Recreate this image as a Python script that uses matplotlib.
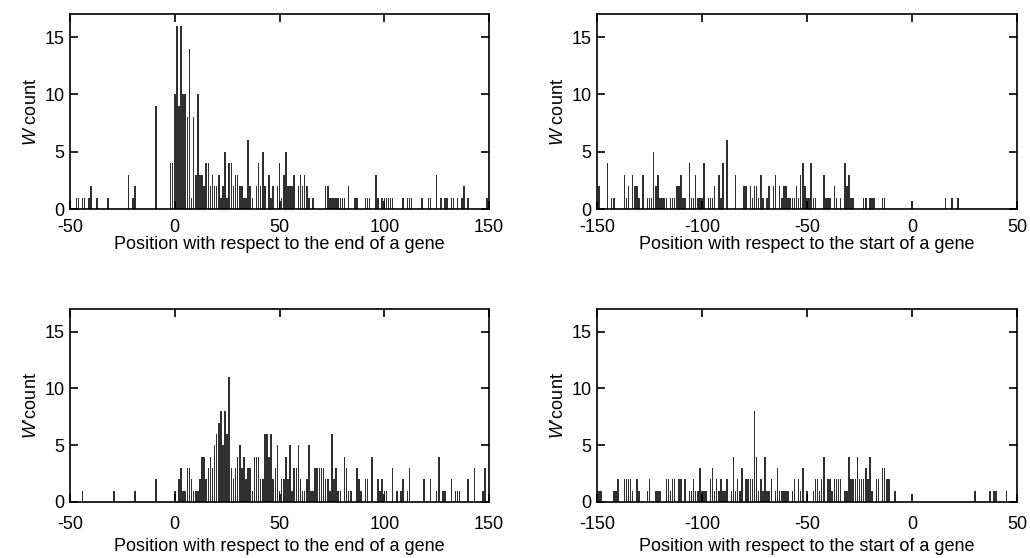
import matplotlib
matplotlib.use('Agg')
import matplotlib.pyplot as plt

plt.rcParams['font.family'] = ['Liberation Sans', 'DejaVu Sans']
plt.rcParams['mathtext.fontset'] = 'custom'
plt.rcParams['mathtext.it'] = 'Liberation Sans:italic'
plt.rcParams['mathtext.rm'] = 'Liberation Sans'

# W counts, position relative to the end of a gene (position, count)
w_end = [(-47, 1), (-46, 1), (-44, 1), (-43, 1), (-41, 1), (-40, 2), (-37, 1), (-32, 1),
         (-22, 3), (-20, 1), (-19, 2), (-9, 9), (-2, 4), (-1, 4), (0, 10), (1, 16), (2, 9),
         (3, 16), (4, 10), (5, 10), (6, 8), (7, 14), (8, 1), (9, 8), (10, 3), (11, 10),
         (12, 3), (13, 3), (14, 2), (15, 4), (16, 4), (17, 2), (18, 3), (19, 2), (20, 2),
         (21, 3), (22, 1), (23, 2), (24, 5), (25, 1), (26, 4), (27, 4), (28, 2), (29, 3),
         (30, 3), (31, 2), (32, 2), (33, 1), (34, 1), (35, 6), (36, 2), (37, 1), (39, 2),
         (40, 4), (41, 2), (42, 5), (43, 2), (45, 3), (46, 1), (47, 2), (49, 2), (50, 4),
         (51, 1), (52, 3), (53, 5), (54, 2), (55, 2), (56, 2), (57, 3), (59, 2), (60, 3),
         (61, 2), (62, 3), (63, 2), (64, 1), (66, 1), (72, 2), (73, 2), (74, 1), (75, 1),
         (76, 1), (77, 1), (78, 1), (79, 1), (80, 1), (81, 1), (83, 2), (86, 1), (87, 1),
         (91, 1), (92, 1), (93, 1), (96, 3), (97, 1), (99, 1), (100, 1), (101, 1), (102, 1),
         (103, 1), (104, 1), (109, 1), (111, 1), (112, 1), (113, 1), (118, 1), (121, 1),
         (122, 1), (125, 3), (127, 1), (129, 1), (130, 1), (132, 1), (133, 1), (135, 1),
         (137, 1), (138, 2), (140, 1), (149, 1)]

# W counts, position relative to the start of a gene
w_start = [(-149, 2), (-145, 4), (-143, 1), (-142, 1), (-137, 3), (-136, 1), (-135, 2),
           (-133, 3), (-132, 2), (-131, 2), (-130, 1), (-128, 3), (-126, 1), (-125, 1),
           (-124, 1), (-123, 5), (-122, 2), (-121, 3), (-120, 1), (-119, 1), (-118, 1),
           (-117, 1), (-115, 1), (-114, 1), (-113, 1), (-112, 2), (-111, 2), (-110, 3),
           (-109, 1), (-108, 1), (-106, 4), (-105, 1), (-104, 1), (-103, 3), (-102, 1),
           (-101, 1), (-100, 1), (-99, 4), (-97, 1), (-96, 1), (-95, 1), (-94, 2), (-92, 3),
           (-91, 1), (-90, 4), (-88, 6), (-84, 3), (-80, 2), (-79, 2), (-77, 2), (-76, 1),
           (-75, 2), (-74, 2), (-73, 1), (-72, 3), (-71, 1), (-69, 1), (-68, 2), (-66, 2),
           (-65, 3), (-63, 2), (-62, 1), (-61, 2), (-60, 2), (-59, 1), (-58, 1), (-57, 1),
           (-56, 1), (-55, 2), (-54, 1), (-53, 3), (-52, 4), (-51, 2), (-50, 1), (-49, 1),
           (-48, 4), (-47, 1), (-46, 1), (-42, 3), (-41, 1), (-40, 1), (-39, 1), (-37, 2),
           (-36, 1), (-34, 1), (-32, 4), (-31, 2), (-30, 3), (-29, 1), (-28, 1), (-23, 1),
           (-22, 1), (-20, 1), (-19, 1), (-18, 1), (-14, 1), (-13, 1), (16, 1), (19, 1),
           (22, 1)]

# W' counts, end of a gene
wp_end = [(-44, 1), (-29, 1), (-19, 1), (-9, 2), (0, 1), (2, 2), (3, 3), (4, 1), (5, 1),
          (6, 3), (7, 3), (8, 2), (9, 1), (10, 1), (11, 1), (12, 2), (13, 4), (14, 4),
          (15, 2), (16, 3), (17, 4), (18, 3), (19, 5), (20, 6), (21, 7), (22, 8), (23, 5),
          (24, 8), (25, 6), (26, 11), (27, 3), (28, 2), (29, 3), (30, 4), (31, 5), (32, 3),
          (33, 4), (34, 2), (35, 3), (36, 3), (37, 1), (38, 4), (39, 4), (40, 4), (41, 2),
          (42, 2), (43, 6), (44, 6), (45, 4), (46, 6), (47, 2), (48, 3), (49, 5), (50, 1),
          (51, 2), (52, 2), (53, 4), (54, 2), (55, 5), (56, 1), (57, 3), (58, 3), (59, 5),
          (60, 2), (61, 1), (62, 1), (63, 2), (64, 5), (65, 1), (66, 1), (67, 3), (68, 3),
          (69, 3), (70, 3), (71, 3), (72, 2), (73, 2), (74, 1), (75, 6), (76, 2), (77, 3),
          (78, 1), (79, 1), (81, 4), (82, 3), (83, 1), (84, 1), (87, 3), (88, 2), (89, 1),
          (91, 2), (92, 2), (94, 4), (97, 2), (98, 1), (99, 2), (100, 1), (101, 1), (104, 3),
          (106, 1), (108, 1), (109, 2), (111, 1), (112, 3), (119, 2), (122, 2), (125, 1),
          (126, 4), (128, 1), (129, 1), (132, 2), (134, 1), (135, 1), (136, 1), (140, 2),
          (143, 3), (147, 1), (148, 3)]

# W' counts, start of a gene
wp_start = [(-149, 1), (-148, 1), (-142, 1), (-141, 1), (-140, 2), (-137, 2), (-136, 2),
            (-135, 2), (-134, 2), (-133, 1), (-131, 2), (-130, 1), (-126, 1), (-125, 2),
            (-122, 1), (-121, 1), (-120, 1), (-117, 2), (-116, 2), (-115, 1), (-114, 2),
            (-113, 2), (-111, 2), (-110, 2), (-108, 2), (-106, 1), (-105, 1), (-104, 2),
            (-103, 1), (-102, 1), (-101, 3), (-100, 1), (-99, 1), (-98, 1), (-96, 2),
            (-95, 3), (-94, 1), (-93, 2), (-92, 1), (-91, 2), (-90, 1), (-89, 1), (-88, 2),
            (-86, 1), (-85, 4), (-84, 1), (-83, 2), (-82, 1), (-81, 3), (-79, 2), (-78, 2),
            (-77, 2), (-76, 2), (-75, 8), (-74, 4), (-73, 1), (-72, 2), (-71, 1), (-70, 4),
            (-69, 1), (-68, 1), (-67, 2), (-65, 1), (-64, 3), (-63, 1), (-62, 1), (-61, 1),
            (-60, 1), (-59, 1), (-57, 1), (-56, 2), (-54, 2), (-53, 1), (-52, 3), (-50, 1),
            (-47, 1), (-46, 2), (-45, 2), (-44, 1), (-43, 2), (-42, 4), (-40, 2), (-39, 2),
            (-38, 1), (-37, 2), (-36, 2), (-35, 2), (-34, 2), (-32, 1), (-31, 1), (-30, 4),
            (-29, 2), (-28, 2), (-27, 2), (-26, 4), (-25, 2), (-24, 2), (-23, 2), (-22, 3),
            (-21, 2), (-20, 4), (-19, 1), (-17, 2), (-16, 2), (-14, 3), (-13, 3), (-12, 2),
            (-11, 2), (-8, 1), (30, 1), (37, 1), (39, 1), (40, 1), (45, 1)]

end_ticks = [-50, 0, 50, 100, 150]
start_ticks = [-150, -100, -50, 0, 50]
y_ticks = [0, 5, 10, 15]

xlab_end = 'Position with respect to the end of a gene'
xlab_start = 'Position with respect to the start of a gene'
ylab_w = r'$\mathit{W}$ count'
ylab_wp = r'$\mathit{W}$' + '\u2019count'

fig = plt.figure(figsize=(10.3, 5.58), dpi=100)

# rect, data, xlim, xticks, xlabel, ylabel, tick pad, label pad
panels = [
    ([0.068, 0.6254, 0.4068, 0.349], w_end, (-50, 150), end_ticks, xlab_end, ylab_w, 7, 0),
    ([0.5796, 0.6254, 0.4078, 0.349], w_start, (-150, 50), start_ticks, xlab_start, ylab_w, 7, 0),
    ([0.068, 0.1004, 0.4068, 0.3459], wp_end, (-50, 150), end_ticks, xlab_end, ylab_wp, 10, 4),
    ([0.5796, 0.1004, 0.4078, 0.3459], wp_start, (-150, 50), start_ticks, xlab_start, ylab_wp, 10, 4),
]

for rect, data, xlim, xt, xl, yl, tpad, lpad in panels:
    ax = fig.add_axes(rect)
    pos = [p for p, c in data]
    cnt = [c for p, c in data]
    ax.bar(pos, cnt, width=0.75, color='#303030', linewidth=0)
    ax.set_xlim(*xlim)
    ax.set_ylim(0, 17)
    ax.set_xticks(xt)
    ax.set_xticklabels([str(t) for t in xt])
    ax.set_yticks(y_ticks)
    ax.tick_params(direction='in', top=True, right=True, length=6, width=1.2,
                   labelsize=13)
    ax.tick_params(axis='x', pad=tpad)
    ax.tick_params(axis='y', pad=4)
    for s in ax.spines.values():
        s.set_linewidth(1.2)
    ax.set_xlabel(xl, fontsize=13, labelpad=lpad)
    ax.set_ylabel(yl, fontsize=13, labelpad=3)

fig.savefig('out.png', dpi=100)
